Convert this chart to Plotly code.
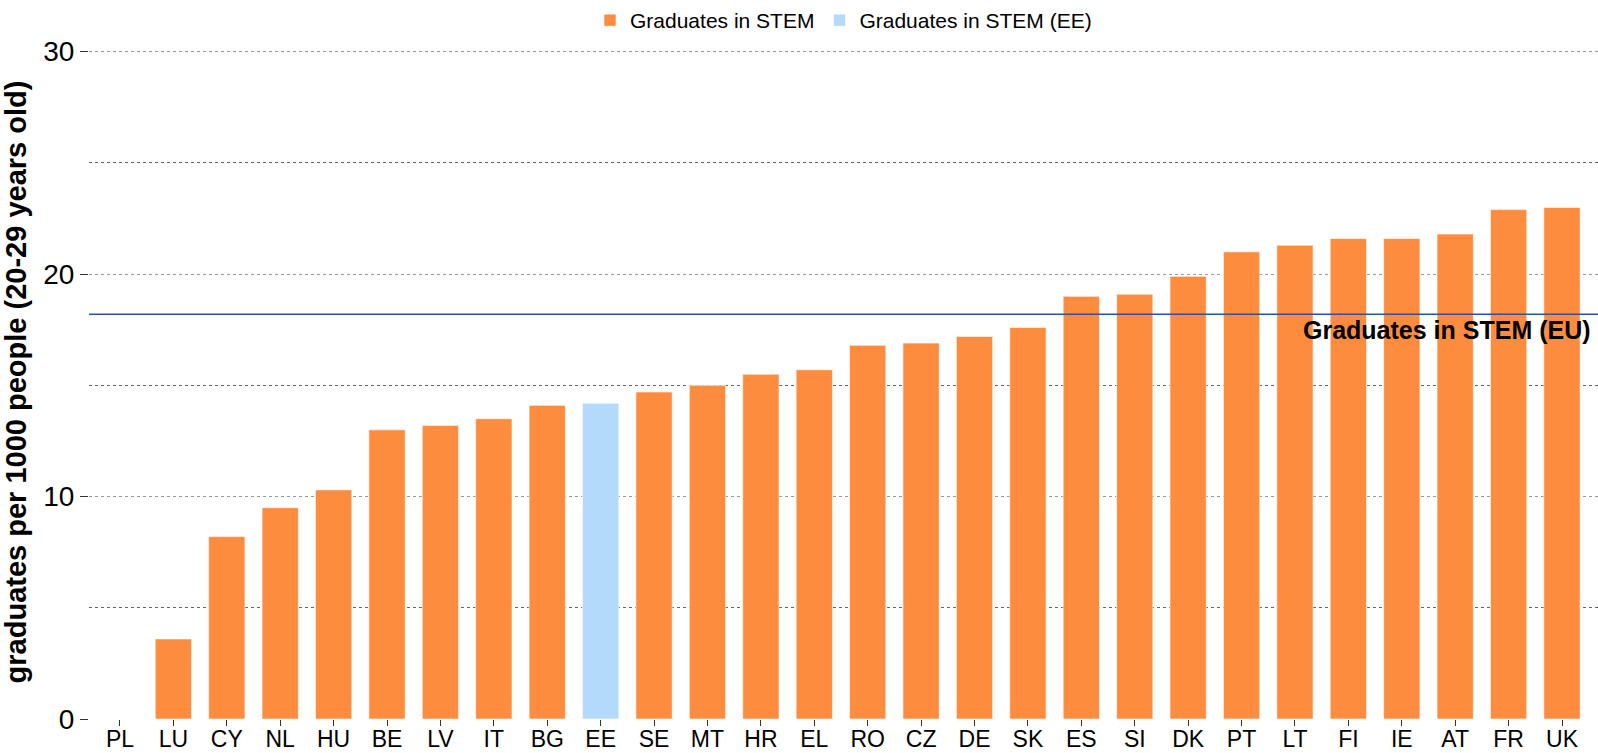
import plotly.graph_objects as go

# ── Data ─────────────────────────────────────────────────────────────────────
countries = ['PL', 'LU', 'CY', 'NL', 'HU', 'BE', 'LV', 'IT', 'BG', 'EE',
             'SE', 'MT', 'HR', 'EL', 'RO', 'CZ', 'DE', 'SK', 'ES', 'SI',
             'DK', 'PT', 'LT', 'FI', 'IE', 'AT', 'FR', 'UK']
graduates = [None, 3.6, 8.2, 9.5, 10.3, 13.0, 13.2, 13.5, 14.1, 14.2,
             14.7, 15.0, 15.5, 15.7, 16.8, 16.9, 17.2, 17.6, 19.0, 19.1,
             19.9, 21.0, 21.3, 21.6, 21.6, 21.8, 22.9, 23.0]
highlight = 'EE'
eu_average = 18.2
y_ticks = [0, 10, 20, 30]

ORANGE = '#fe8c3f'
LIGHT_BLUE = '#b3d9fb'
EU_BLUE = '#3050a8'
FONT = 'Liberation Sans, Arial, sans-serif'

other_vals = [None if c == highlight else v for c, v in zip(countries, graduates)]
ee_vals = [v if c == highlight else None for c, v in zip(countries, graduates)]

fig = go.Figure()

fig.add_trace(go.Bar(
    x=countries, y=other_vals,
    name='Graduates in STEM',
    marker=dict(color=ORANGE, line=dict(color='rgba(255,255,255,0.6)', width=1)),
))
fig.add_trace(go.Bar(
    x=countries, y=ee_vals,
    name='Graduates in STEM (EE)',
    marker=dict(color=LIGHT_BLUE, line=dict(color='rgba(255,255,255,0.6)', width=1)),
))

# EU reference line
fig.add_hline(y=eu_average, line=dict(color=EU_BLUE, width=1.5), layer='above')
fig.add_annotation(
    x=1, xref='paper', y=eu_average, yref='y',
    text='Graduates in STEM (EU)',
    showarrow=False, xanchor='right', yanchor='top',
    xshift=-5, yshift=0,
    font=dict(family=FONT, size=25, color='black', weight='bold'),
)

fig.update_layout(
    width=1598, height=753,
    paper_bgcolor='white',
    plot_bgcolor='white',
    font=dict(family=FONT, color='black'),
    margin=dict(l=89, r=0, t=45, b=34, autoexpand=False),
    barmode='overlay',
    bargap=0.32,
    showlegend=True,
    legend=dict(
        orientation='h', x=0.5, xanchor='center',
        yref='container', y=1.0, yanchor='top',
        font=dict(family=FONT, size=21, color='black'),
    ),
    xaxis=dict(
        type='category',
        range=[-0.58, 27.674],
        showgrid=False,
        ticks='outside', ticklen=6, tickcolor='#333',
        tickfont=dict(family=FONT, size=23, color='black'),
        ticklabelstandoff=-7,
        showline=False,
        zeroline=False,
        automargin=False,
    ),
    yaxis=dict(
        range=[0, 30.3],
        tickvals=y_ticks,
        ticks='outside', ticklen=8, tickcolor='#333',
        tickfont=dict(family=FONT, size=28, color='black'),
        showgrid=True, gridcolor='#999999', griddash='dot', gridwidth=1,
        minor=dict(dtick=5, showgrid=True, gridcolor='#666666', griddash='dot', gridwidth=1),
        zeroline=False,
        showline=False,
        automargin=False,
        title=dict(text='graduates per 1000 people (20-29 years old)',
                   font=dict(family=FONT, size=29, color='black', weight='bold'), standoff=8),
    ),
)

fig.write_html('out.html', config={'displayModeBar': False},
               post_script="document.body.style.margin = '0';")
